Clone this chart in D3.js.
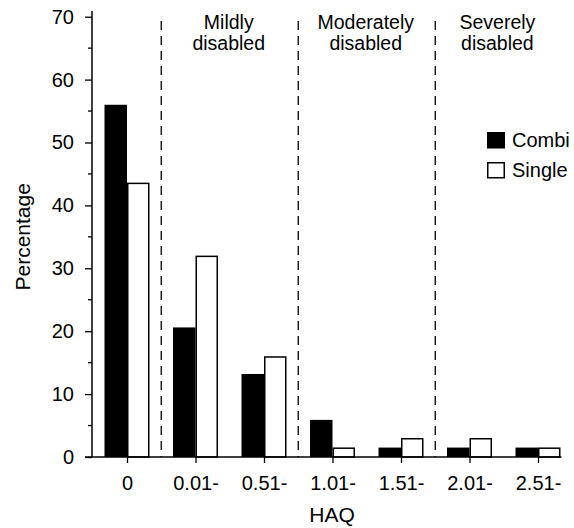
<!DOCTYPE html>
<html>
<head>
<meta charset="utf-8">
<script src="https://cdn.jsdelivr.net/npm/d3@7"></script>
<style>
  html, body { margin: 0; padding: 0; background: #fff; }
  svg text { font-family: "Liberation Sans", Arial, sans-serif; fill: #000; }
</style>
</head>
<body>
<svg id="chart" width="574" height="528"></svg>
<script>
// HAQ score bands and percentage of patients per treatment arm
const categories = ["0", "0.01-", "0.51-", "1.01-", "1.51-", "2.01-", "2.51-"];
const combi  = [56, 20.6, 13.2, 5.9, 1.5, 1.5, 1.5];
const single = [43.5, 31.9, 15.9, 1.4, 2.9, 2.9, 1.4];
const seriesNames = ["Combi", "Single"];
const yTicks = [0, 10, 20, 30, 40, 50, 60, 70];
const yMinorTicks = [5, 15, 25, 35, 45, 55, 65];
// Disability groups: label lines and the category range each group spans
const groups = [
  { lines: ["Mildly", "disabled"], from: 1, to: 2 },
  { lines: ["Moderately", "disabled"], from: 3, to: 4 },
  { lines: ["Severely", "disabled"], from: 5, to: 6 }
];

const svg = d3.select("#chart");
const fontSize = 20;

const x = d3.scalePoint().domain(categories).range([127, 538]);
const y = d3.scaleLinear().domain([0, 70]).range([457, 16.7]);
const barW = 22.5;
const axisLeft = 85, axisRight = 561.5;

// bars
const g = svg.append("g");
categories.forEach((c, i) => {
  g.append("rect")
    .attr("x", x(c) - barW).attr("y", y(combi[i]))
    .attr("width", barW).attr("height", y(0) - y(combi[i]))
    .attr("fill", "#000");
  g.append("rect")
    .attr("x", x(c) + 0.75).attr("y", y(single[i]))
    .attr("width", barW - 1.5).attr("height", y(0) - y(single[i]))
    .attr("fill", "#fff").attr("stroke", "#000").attr("stroke-width", 1.5);
});

// dashed dividers between disability groups
const dividerX = [0, 2, 4].map(i => (x(categories[i]) + x(categories[i + 1])) / 2);
svg.append("g").selectAll("line").data(dividerX).join("line")
  .attr("x1", d => d).attr("x2", d => d)
  .attr("y1", 21).attr("y2", y(0))
  .attr("stroke", "#000").attr("stroke-width", 1.3)
  .attr("stroke-dasharray", "9,6");

// group labels
const bounds = dividerX.concat([axisRight]);
groups.forEach((gr, i) => {
  const cx = (bounds[i] + bounds[i + 1]) / 2 - 1;
  const t = svg.append("text")
    .attr("text-anchor", "middle")
    .attr("font-size", 19.5);
  gr.lines.forEach((ln, k) => {
    t.append("tspan").attr("x", cx).attr("y", 29 + k * 20.5).text(ln);
  });
});

// y axis
const yAxis = d3.axisLeft(y).tickValues(yTicks).tickSize(7).tickPadding(11).tickSizeOuter(0);
const yg = svg.append("g").attr("transform", "translate(92,0)").call(yAxis);
yg.select(".domain").remove();
yg.selectAll("text").attr("font-size", fontSize).attr("font-family", null);
yg.selectAll("line").attr("stroke-width", 1.3);
yg.append("line").attr("x1", 0).attr("x2", 0).attr("y1", 11).attr("y2", y(0))
  .attr("stroke", "#000").attr("stroke-width", 1.5);
yg.selectAll(".minor").data(yMinorTicks).join("line")
  .attr("class", "minor")
  .attr("x1", -4).attr("x2", 0)
  .attr("y1", d => y(d)).attr("y2", d => y(d))
  .attr("stroke", "#000").attr("stroke-width", 1.3);

// x axis
const xAxis = d3.axisBottom(x).tickSize(6).tickPadding(13).tickSizeOuter(0);
const xg = svg.append("g").attr("transform", `translate(0,${y(0)})`).call(xAxis);
xg.select(".domain").remove();
xg.selectAll("text").attr("font-size", fontSize).attr("font-family", null);
xg.selectAll("line").attr("stroke-width", 1.3);
xg.append("line").attr("x1", axisLeft).attr("x2", axisRight).attr("y1", 0).attr("y2", 0)
  .attr("stroke", "#000").attr("stroke-width", 1.5);

// axis titles
svg.append("text").attr("x", 332).attr("y", 522)
  .attr("text-anchor", "middle").attr("font-size", 21).text("HAQ");
svg.append("text")
  .attr("transform", `translate(30,${(y(0) + y(70)) / 2}) rotate(-90)`)
  .attr("text-anchor", "middle").attr("font-size", 21).text("Percentage");

// legend
const legend = svg.append("g").attr("transform", "translate(487,132)");
seriesNames.forEach((name, i) => {
  const row = legend.append("g").attr("transform", `translate(0,${i * 30})`);
  row.append("rect").attr("x", 0.75).attr("y", 0.75).attr("width", 16.5).attr("height", 15)
    .attr("fill", i === 0 ? "#000" : "#fff").attr("stroke", "#000").attr("stroke-width", 1.5);
  row.append("text").attr("x", 25).attr("y", 8).attr("dy", "0.35em")
    .attr("font-size", fontSize).text(name);
});
</script>
</body>
</html>
